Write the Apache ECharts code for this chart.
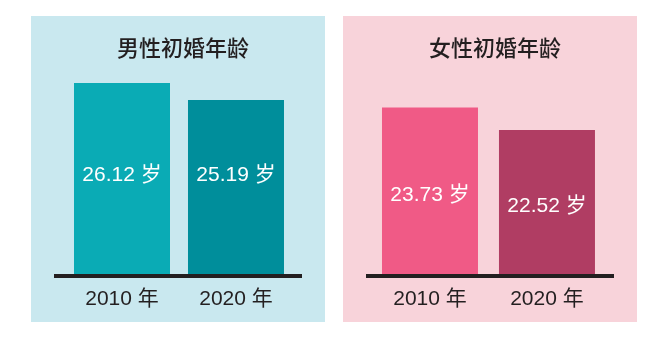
<!DOCTYPE html>
<html><head><meta charset="utf-8">
<script src="https://cdn.jsdelivr.net/npm/echarts@6/dist/echarts.min.js"></script>
<style>html,body{margin:0;padding:0;background:#fff}#c{width:656px;height:340px}</style>
</head><body><div id="c"></div>
<script>
const years = ['2010 年', '2020 年'];
const maleValues = [26.12, 25.19];
const femaleValues = [23.73, 22.52];
const titles = ['男性初婚年龄', '女性初婚年龄'];
const unit = ' 岁';

const maleColors = ['#0aabb5', '#008e9b'];
const femaleColors = ['#f05a86', '#b03d63'];
const FONT = '"Liberation Sans", "Noto Sans CJK SC", sans-serif';
const INK = '#231f20';

function items(vals, cols) {
  return vals.map((v, i) => ({ value: [i, v], itemStyle: { color: cols[i] } }));
}
function xAx(gi, min, max) {
  return {
    type: 'value', gridIndex: gi, min: min, max: max, z: 5,
    axisLine: { show: true, onZero: false, lineStyle: { color: INK, width: 4, cap: 'butt' } },
    axisTick: { show: false }, splitLine: { show: false },
    axisLabel: {
      customValues: [0, 1], margin: 13,
      formatter: v => years[Math.round(v)],
      color: INK, fontSize: 21, fontFamily: FONT
    }
  };
}
const chart = echarts.init(document.getElementById('c'), null, { renderer: 'canvas' });
chart.setOption({
  animation: false,
  backgroundColor: '#fff',
  graphic: [
    { type: 'rect', z: -10, shape: { x: 31, y: 16, width: 294, height: 306 }, style: { fill: '#c9e8ef' } },
    { type: 'rect', z: -10, shape: { x: 343, y: 16, width: 294, height: 306 }, style: { fill: '#f8d3da' } }
  ],
  title: [
    { text: titles[0], left: 178, top: 32, textAlign: 'center',
      textStyle: { fontSize: 22, fontWeight: 500, color: INK, fontFamily: '"Noto Sans CJK SC", sans-serif', lineHeight: 22 } },
    { text: titles[1], left: 490, top: 32, textAlign: 'center',
      textStyle: { fontSize: 22, fontWeight: 500, color: INK, fontFamily: '"Noto Sans CJK SC", sans-serif', lineHeight: 22 } }
  ],
  grid: [
    { left: 54, width: 248, top: 56, bottom: 64 },
    { left: 366, width: 248, top: 56, bottom: 64 }
  ],
  xAxis: [ xAx(0, -0.5965, 1.579), xAx(1, -0.547, 1.573) ],
  yAxis: [
    { type: 'value', gridIndex: 0, min: 15.56, max: 27.59, show: false },
    { type: 'value', gridIndex: 1, min: 14.67, max: 26.50, show: false }
  ],
  series: [
    { type: 'bar', xAxisIndex: 0, yAxisIndex: 0, barWidth: 96,
      data: items(maleValues, maleColors),
      label: { show: true, position: 'insideBottom', distance: 90,
        formatter: p => p.value[1].toFixed(2) + unit,
        color: '#fff', fontSize: 21, fontFamily: FONT } },
    { type: 'bar', xAxisIndex: 1, yAxisIndex: 1, barWidth: 96,
      data: items(femaleValues, femaleColors),
      label: { show: true, position: 'inside', offset: [0, 3],
        formatter: p => p.value[1].toFixed(2) + unit,
        color: '#fff', fontSize: 21, fontFamily: FONT } }
  ]
});
</script></body></html>
